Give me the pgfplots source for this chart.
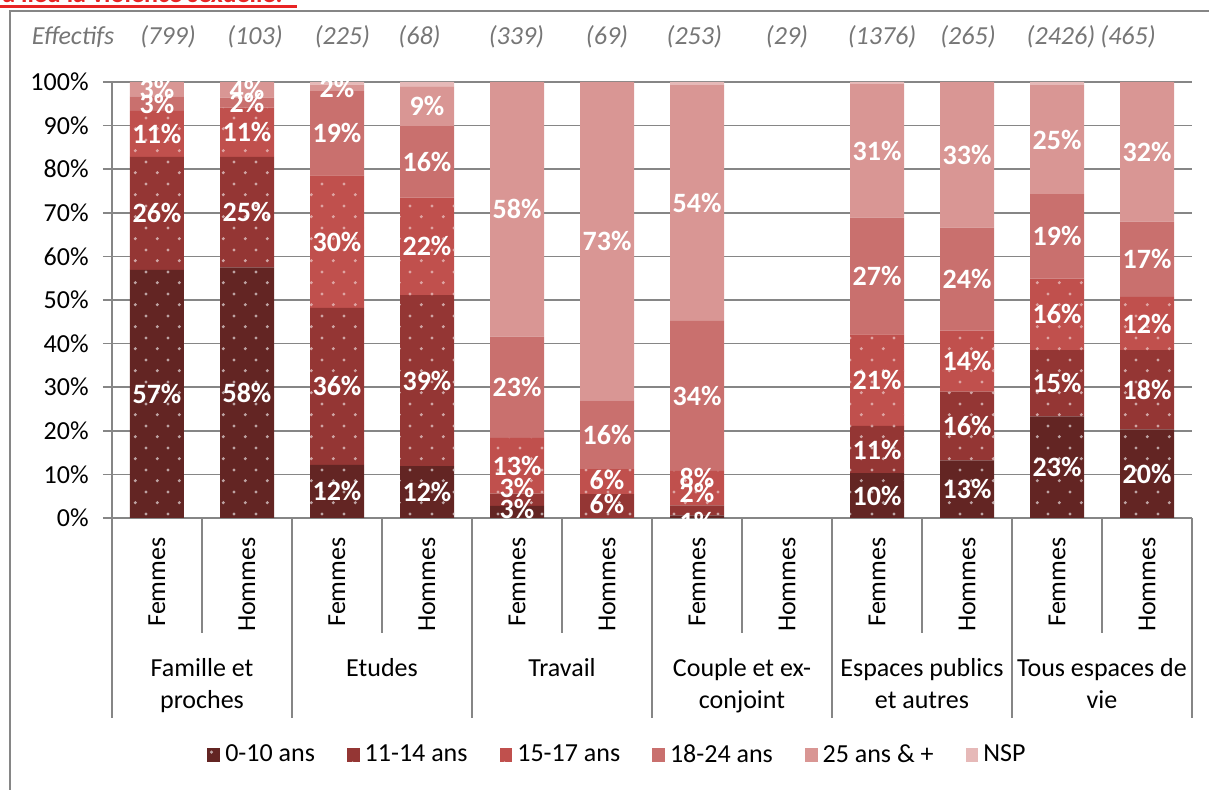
\documentclass[border=0pt]{standalone}
\usepackage{fontspec}
\setmainfont{Carlito}
\usepackage{pgfplots}
\pgfplotsset{compat=1.18}
\usepackage{pgfplotstable}
\usetikzlibrary{patterns.meta}

\definecolor{c1}{HTML}{632523}
\definecolor{c2}{HTML}{943634}
\definecolor{c3}{HTML}{C0504D}
\definecolor{c4}{HTML}{C9706E}
\definecolor{c5}{HTML}{D99694}
\definecolor{c6}{HTML}{E6B9B8}
\definecolor{gridc}{RGB}{134,134,134}
\definecolor{titlered}{RGB}{232,36,36}
\definecolor{effc}{RGB}{118,118,118}

\newcommand\fs{\fontsize{13}{15.6}\selectfont}
\newcommand\fl{\fontsize{14}{16}\selectfont\bfseries}

\pgfdeclarepattern{
  name=xldots, type=uncolored,
  bottom left={\pgfpoint{0pt}{0pt}},
  top right={\pgfpoint{10.85pt}{10.85pt}},
  tile size={\pgfpoint{10.85pt}{10.85pt}},
  code={
    \pgfpathcircle{\pgfpoint{2.7pt}{2.7pt}}{0.85pt}
    \pgfpathcircle{\pgfpoint{8.1pt}{8.1pt}}{0.85pt}
    \pgfusepath{fill}
  }
}

% segment values (%), then label offsets (in % units) for crowded labels
\pgfplotstableread{
x  a    b    c    d    e    f    oa   ob   oc
0  56.9 25.9 10.6 3.3  3.3  0    0    0    0
1  57.5 25.3 11.3 2.3  3.6  0    0    0    0
2  12.2 36.0 30.4 19.3 1.5  0.6  0    0    0
3  11.9 39.2 22.4 16.4 9.1  1.0  0    0    0
4  2.8  2.8  12.8 23.2 58.4 0    0.7  2.7  0
5  0    5.5  5.7  15.8 73.0 0    0    0.4  0.3
6  0.6  2.3  7.9  34.4 54.1 0.7  -1.2 3.9  2.3
7  0    0    0    0    0    0    0    0    0
8  10.3 10.8 21.0 26.8 30.6 0.5  0    0    0
9  13.2 15.8 14.0 23.6 33.4 0    0    0    0
10 23.3 15.2 16.4 19.4 25.0 0.7  0    0    0
11 20.3 18.2 12.2 17.3 32.0 0    0    0    0
}\data

\pgfplotsset{
  seglabel/.style={only marks, mark=none, draw=none, point meta=explicit,
    nodes near coords={\pgfmathprintnumber[fixed,precision=0,assume math mode=true]{\pgfplotspointmeta}\%},
    every node near coord/.append style={font=\fl, text=white, anchor=center, inner sep=0pt}},
}

\begin{document}
\begin{tikzpicture}
\begin{axis}[
  scale only axis, width=540pt, height=218pt,
  at={(0pt,0pt)}, anchor=south west,
  ybar stacked, bar width=27pt,
  xmin=-0.5, xmax=11.5, ymin=0, ymax=100,
  xtick={0,...,11},
  xticklabels={Femmes,Hommes,Femmes,Hommes,Femmes,Hommes,Femmes,Hommes,Femmes,Hommes,Femmes,Hommes},
  xticklabel style={rotate=90, anchor=east, inner sep=0pt, font=\fs},
  xticklabel shift=5pt,
  xtick style={draw=none},
  ytick={0,10,...,100},
  yticklabel={\pgfmathprintnumber[assume math mode=true]{\tick}\%},
  yticklabel style={font=\fs, inner sep=0pt, xshift=-7pt},
  ymajorgrids, grid style={gridc, line width=0.75pt},
  axis lines*=left, axis line style={gridc, line width=0.75pt, -},
  tick align=outside, major tick length=4.5pt,
  ytick style={gridc, line width=0.75pt},
  clip=false,
  legend columns=6,
  legend cell align=left,
  legend style={at={(0.469,-0.5436)}, anchor=center, draw=none, font=\fs,
    /tikz/every even column/.append style={column sep=14pt},
    /tikz/every odd column/.append style={column sep=0.5pt}},
  legend image code/.code={\fill[#1] (0pt,-3.3pt) rectangle (6.4pt,3.3pt);},
]
\addplot[fill=c1, draw=none, postaction={pattern=xldots, pattern color=white!58!c1}] table[x=x,y=a]{\data};
\addlegendentry{0-10 ans}
\addplot[fill=c2, draw=none, postaction={pattern=xldots, pattern color=white!55!c2}] table[x=x,y=b]{\data};
\addlegendentry{11-14 ans}
\addplot[fill=c3, draw=none, postaction={pattern=xldots, pattern color=white!48!c3}] table[x=x,y=c]{\data};
\addlegendentry{15-17 ans}
\addplot[fill=c4, draw=none] table[x=x,y=d]{\data};
\addlegendentry{18-24 ans}
\addplot[fill=c5, draw=none] table[x=x,y=e]{\data};
\addlegendentry{25 ans \& +}
\addplot[fill=c6, draw=none] table[x=x,y=f]{\data};
\addlegendentry{NSP}

\pgfplotsinvokeforeach{0.5,2.5,4.5,6.5,8.5,10.5}{\draw[gridc, line width=0.75pt] (axis cs:#1,0) -- ++(0pt,-57.5pt);}
\pgfplotsinvokeforeach{-0.5,1.5,3.5,5.5,7.5,9.5,11.5}{\draw[gridc, line width=0.75pt] (axis cs:#1,0) -- ++(0pt,-100pt);}

\node[font=\fs, anchor=base] at ([yshift=-79.5pt]axis cs:0.5,0) {Famille et};
\node[font=\fs, anchor=base] at ([yshift=-95.5pt]axis cs:0.5,0) {proches};
\node[font=\fs, anchor=base] at ([yshift=-79.5pt]axis cs:2.5,0) {Etudes};
\node[font=\fs, anchor=base] at ([yshift=-79.5pt]axis cs:4.5,0) {Travail};
\node[font=\fs, anchor=base] at ([yshift=-79.5pt]axis cs:6.5,0) {Couple et ex-};
\node[font=\fs, anchor=base] at ([yshift=-95.5pt]axis cs:6.5,0) {conjoint};
\node[font=\fs, anchor=base] at ([yshift=-79.5pt]axis cs:8.5,0) {Espaces publics};
\node[font=\fs, anchor=base] at ([yshift=-95.5pt]axis cs:8.5,0) {et autres};
\node[font=\fs, anchor=base] at ([yshift=-79.5pt]axis cs:10.5,0) {Tous espaces de};
\node[font=\fs, anchor=base] at ([yshift=-95.5pt]axis cs:10.5,0) {vie};

\node[font=\fs\itshape, text=effc] at ([yshift=22.5pt]axis cs:-0.933,100) {Effectifs};
\node[font=\fs\itshape, text=effc] at ([yshift=22.5pt]axis cs:0.122,100) {(799)};
\node[font=\fs\itshape, text=effc] at ([yshift=22.5pt]axis cs:1.089,100) {(103)};
\node[font=\fs\itshape, text=effc] at ([yshift=22.5pt]axis cs:2.06,100) {(225)};
\node[font=\fs\itshape, text=effc] at ([yshift=22.5pt]axis cs:2.917,100) {(68)};
\node[font=\fs\itshape, text=effc] at ([yshift=22.5pt]axis cs:3.994,100) {(339)};
\node[font=\fs\itshape, text=effc] at ([yshift=22.5pt]axis cs:5.0,100) {(69)};
\node[font=\fs\itshape, text=effc] at ([yshift=22.5pt]axis cs:5.97,100) {(253)};
\node[font=\fs\itshape, text=effc] at ([yshift=22.5pt]axis cs:7.0,100) {(29)};
\node[font=\fs\itshape, text=effc] at ([yshift=22.5pt]axis cs:8.056,100) {(1376)};
\node[font=\fs\itshape, text=effc] at ([yshift=22.5pt]axis cs:9.011,100) {(265)};
\node[font=\fs\itshape, text=effc] at ([yshift=22.5pt]axis cs:10.044,100) {(2426)};
\node[font=\fs\itshape, text=effc] at ([yshift=22.5pt]axis cs:10.789,100) {(465)};
\end{axis}

\begin{axis}[
  scale only axis, width=540pt, height=218pt,
  at={(0pt,0pt)}, anchor=south west,
  xmin=-0.5, xmax=11.5, ymin=0, ymax=100,
  hide axis, clip=false, unbounded coords=discard,
]
\addplot[seglabel] table[x=x, y expr={\thisrow{a}>0.2 ? \thisrow{a}/2+\thisrow{oa} : nan}, meta=a]{\data};
\addplot[seglabel] table[x=x, y expr={\thisrow{b}>0.2 ? \thisrow{a}+\thisrow{b}/2+\thisrow{ob} : nan}, meta=b]{\data};
\addplot[seglabel] table[x=x, y expr={\thisrow{c}>0.2 ? \thisrow{a}+\thisrow{b}+\thisrow{c}/2+\thisrow{oc} : nan}, meta=c]{\data};
\addplot[seglabel] table[x=x, y expr={\thisrow{d}>0.2 ? \thisrow{a}+\thisrow{b}+\thisrow{c}+\thisrow{d}/2 : nan}, meta=d]{\data};
\addplot[seglabel] table[x=x, y expr={\thisrow{e}>0.2 ? \thisrow{a}+\thisrow{b}+\thisrow{c}+\thisrow{d}+\thisrow{e}/2 : nan}, meta=e]{\data};
\end{axis}

\node[anchor=base west, font=\fontsize{13}{15}\selectfont\bfseries, text=titlered, inner sep=0pt] at (-55pt,257.8pt) {a lieu la violence sexuelle.};
\draw[titlered, line width=1.2pt] (-56pt,255.8pt) -- (92.5pt,255.8pt);
\draw[gridc, line width=0.75pt] (-51pt,-140pt) -- (-51pt,253.5pt) -- (560pt,253.5pt);

\pgfresetboundingbox
\useasboundingbox (-56pt,-136pt) rectangle (548.5pt,259pt);
\end{tikzpicture}
\end{document}
